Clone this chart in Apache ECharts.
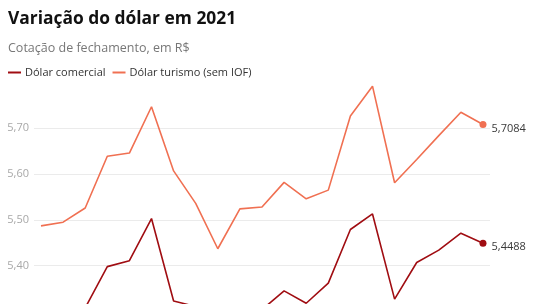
<!DOCTYPE html>
<html>
<head>
<meta charset="utf-8">
<script src="https://cdn.jsdelivr.net/npm/echarts@6/dist/echarts.min.js"></script>
<style>
html,body{margin:0;padding:0;overflow:hidden;background:#fff;width:540px;height:304px;}
#c{width:540px;height:440px;}
</style>
</head>
<body>
<div id="c"></div>
<script>
var categories = ['1','2','3','4','5','6','7','8','9','10','11','12','13','14','15','16','17','18','19','20','21'];
var turismo = [5.487,5.495,5.526,5.639,5.646,5.747,5.607,5.536,5.437,5.524,5.528,5.582,5.546,5.565,5.727,5.792,5.581,5.632,5.684,5.735,5.7084];
var comercial = [5.25,5.26,5.308,5.398,5.411,5.503,5.323,5.311,5.20,5.28,5.304,5.345,5.318,5.362,5.479,5.513,5.327,5.407,5.434,5.471,5.4488];
var yTicks = [5.1,5.2,5.3,5.4,5.5,5.6,5.7,5.8];

var fontFam = '"Open Sans", sans-serif';
function fmt(v, d){ return v.toFixed(d).replace('.', ','); }
function build(arr){
  return arr.map(function(v, i){
    var last = i === arr.length - 1;
    return {
      value: [i, v],
      symbol: last ? 'circle' : 'none',
      symbolSize: last ? 7 : 0,
      label: last ? {show:true, position:'right', distance:5, offset:[0,4], formatter: fmt(v,4), color:'#3a3a3a', fontSize:11, fontFamily: fontFam} : {show:false}
    };
  });
}
var chart = echarts.init(document.getElementById('c'), null, {renderer:'canvas'});
var gridColors = yTicks.map(function(t, i){ return i === yTicks.length - 1 ? 'rgba(0,0,0,0)' : '#ebebeb'; });
chart.setOption({
  animation:false,
  textStyle:{fontFamily: fontFam},
  title:[
    {text:'Variação do dólar em 2021', left:8, top:11, padding:0, textStyle:{fontSize:17.4, fontWeight:'bold', color:'#111', fontFamily: fontFam}},
    {text:'Cotação de fechamento, em R$', left:8, top:42, padding:0, textStyle:{fontSize:12.5, fontWeight:'normal', color:'#777', fontFamily: fontFam}}
  ],
  legend:{
    left:8, top:67, padding:0, icon:'rect', itemWidth:13, itemHeight:2, itemGap:7,
    textStyle:{fontSize:11, color:'#333', fontFamily: fontFam, padding:[0,0,0,-1]},
    data:['Dólar comercial','Dólar turismo (sem IOF)']
  },
  grid:{left:34, top:82.5, width:456, height:320.6, containLabel:false},
  xAxis:{type:'value', min:-0.317, max:20.317, show:false},
  yAxis:{
    type:'value', min:yTicks[0], max:yTicks[yTicks.length-1], interval:0.1,
    axisLine:{show:false}, axisTick:{show:false},
    axisLabel:{showMaxLabel:false, margin:5, color:'#a8a8a8', fontSize:11, fontFamily: fontFam, formatter:function(v){return fmt(v,2);}},
    splitLine:{lineStyle:{color:gridColors, width:1}}
  },
  series:[
    {name:'Dólar comercial', type:'line', data: build(comercial), color:'#a00d12', lineStyle:{width:1.6, color:'#a00d12'}, itemStyle:{color:'#a00d12'}},
    {name:'Dólar turismo (sem IOF)', type:'line', data: build(turismo), color:'#f07052', lineStyle:{width:1.6, color:'#f07052'}, itemStyle:{color:'#f07052'}}
  ]
});
</script>
</body>
</html>
